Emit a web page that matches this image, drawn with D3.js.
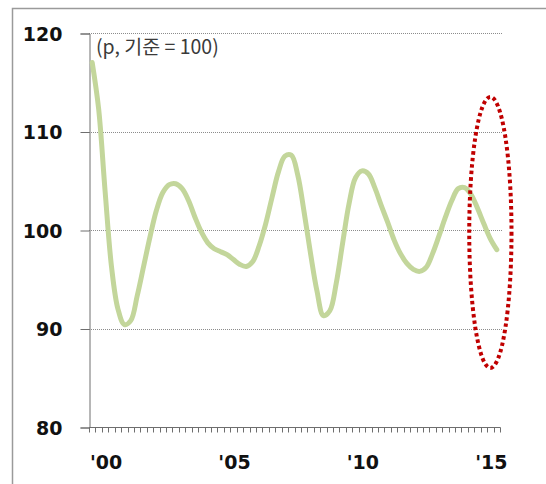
<!DOCTYPE html>
<html>
<head>
<meta charset="utf-8">
<script src="https://cdn.jsdelivr.net/npm/d3@7"></script>
<style>
  html, body { margin: 0; padding: 0; background: #fff; }
  svg { display: block; }
</style>
</head>
<body>
<svg id="chart" width="546" height="484"></svg>
<script>
// Quarterly index, 2000 Q1 – 2015 Q4 (base = 100)
const quarters = d3.range(2000, 2016).flatMap(y => [1, 2, 3, 4].map(q => `${y}Q${q}`));
const values = [
  117.0, 112.3, 104.0, 96.3, 92.0, 90.4, 90.8, 93.3,
  96.3, 99.3, 102.0, 103.8, 104.6, 104.7, 104.2, 103.0,
  101.3, 99.8, 98.7, 98.1, 97.8, 97.5, 97.0, 96.5,
  96.3, 96.8, 98.4, 100.6, 103.3, 105.9, 107.5, 107.6,
  105.6, 101.8, 97.6, 93.8, 91.3, 91.8, 94.6, 98.7,
  102.7, 105.3, 106.0, 105.7, 104.3, 102.5, 100.8, 99.0,
  97.6, 96.6, 96.0, 95.8, 96.2, 97.6, 99.4, 101.3,
  103.0, 104.2, 104.3, 103.6, 102.2, 100.6, 99.1, 98.0
];
const yTicks = [80, 90, 100, 110, 120];
const gridValues = [90, 100, 110, 120];
const xLabels = [
  { quarter: "2000Q3", text: "'00" },
  { quarter: "2005Q3", text: "'05" },
  { quarter: "2010Q3", text: "'10" },
  { quarter: "2015Q3", text: "'15" }
];
const unitNote = "(p, 기준 = 100)";
// highlighted period: the most recent quarters
const highlightRange = ["2015Q2", "2015Q4"];
const highlightValues = [86, 113.5];

const svg = d3.select("#chart");
const plot = { left: 89, right: 500, top: 33, bottom: 427 };

const x = d3.scaleBand().domain(quarters).range([plot.left, plot.right]).padding(0);
const y = d3.scaleLinear().domain([80, 120]).range([plot.bottom, plot.top]);
const cx = q => x(q) + x.bandwidth() / 2;

// outer frame
svg.append("path")
  .attr("d", "M12.5,490 V8.5 H560")
  .attr("fill", "none")
  .attr("stroke", "#9a9a9a")
  .attr("stroke-width", 1.5);

// dotted gridlines
svg.append("g").selectAll("line").data(gridValues).join("line")
  .attr("x1", plot.left).attr("x2", plot.right + 2)
  .attr("y1", d => Math.round(y(d)) + 0.5).attr("y2", d => Math.round(y(d)) + 0.5)
  .attr("stroke", "#8c8c8c")
  .attr("stroke-width", 1)
  .attr("stroke-dasharray", "1,1");

// y axis
const yAxis = d3.axisLeft(y).tickValues(yTicks).tickSize(9).tickFormat(d3.format("d"));
const gy = svg.append("g").attr("transform", `translate(${plot.left + 0.5},0.5)`).call(yAxis);
gy.select(".domain").attr("stroke", "#6e6e6e");
gy.selectAll(".tick line").attr("stroke", "#6e6e6e");
gy.selectAll(".tick text")
  .attr("x", -27)
  .attr("dy", "0.36em")
  .attr("fill", "#111")
  .style("font-family", "'DejaVu Sans', sans-serif")
  .style("font-weight", "bold")
  .style("font-size", "19px");

// x axis: a tick at every quarter boundary
const xEdges = d3.scaleLinear().domain([0, quarters.length]).range([plot.left, plot.right]);
const gx = svg.append("g").attr("transform", `translate(0,${plot.bottom + 0.5})`);
gx.append("line")
  .attr("x1", plot.left).attr("x2", plot.right + 0.5)
  .attr("stroke", "#6e6e6e");
gx.selectAll(".qtick").data(d3.range(quarters.length + 1)).join("line")
  .attr("class", "qtick")
  .attr("x1", d => Math.round(xEdges(d)) + 0.5).attr("x2", d => Math.round(xEdges(d)) + 0.5)
  .attr("y1", 0).attr("y2", 5)
  .attr("stroke", "#6e6e6e");
gx.selectAll("text").data(xLabels).join("text")
  .attr("x", d => cx(d.quarter) + 1)
  .attr("y", 41)
  .attr("text-anchor", "middle")
  .attr("fill", "#111")
  .style("font-family", "'DejaVu Sans', sans-serif")
  .style("font-weight", "bold")
  .style("font-size", "19px")
  .text(d => d.text);

// unit note
svg.append("text")
  .attr("x", 96)
  .attr("y", 54)
  .attr("fill", "#3a3a3a")
  .style("font-family", "'Noto Sans CJK KR', sans-serif")
  .style("font-size", "19.5px")
  .text(unitNote);

// index line
const line = d3.line()
  .x((d, i) => cx(quarters[i]))
  .y(d => y(d))
  .curve(d3.curveCatmullRom.alpha(0.5));

svg.append("path")
  .datum(values)
  .attr("d", line)
  .attr("fill", "none")
  .attr("stroke", "#c3d69b")
  .attr("stroke-width", 5)
  .attr("stroke-linejoin", "round")
  .attr("stroke-linecap", "round");

// dotted ellipse around the latest period
const ex0 = x(highlightRange[0]);
const ex1 = x(highlightRange[1]) + x.bandwidth();
svg.append("ellipse")
  .attr("cx", (ex0 + ex1) / 2)
  .attr("cy", (y(highlightValues[0]) + y(highlightValues[1])) / 2)
  .attr("rx", (ex1 - ex0) / 2 + 11.5)
  .attr("ry", (y(highlightValues[0]) - y(highlightValues[1])) / 2)
  .attr("fill", "none")
  .attr("stroke", "#c00000")
  .attr("stroke-width", 4)
  .attr("stroke-dasharray", "3.5,3");
</script>
</body>
</html>
